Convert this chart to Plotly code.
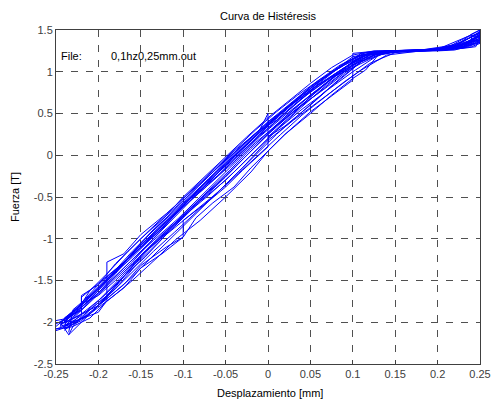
import plotly.graph_objects as go

# ---- data: hysteresis loops (displacement mm, force T) ----
loop_a_x = [-0.245, -0.23, -0.22, -0.2, -0.17, -0.14, -0.11, -0.08, -0.05, -0.02, 0.01, 0.04, 0.07, 0.10, 0.13, 0.16, 0.20, 0.23, 0.25,
            0.25, 0.24, 0.21, 0.17, 0.14, 0.11, 0.08, 0.05, 0.02, -0.01, -0.04, -0.07, -0.10, -0.13, -0.16, -0.19, -0.22, -0.24, -0.245]
loop_a_y = [-2.05, -2.0, -1.9, -1.8, -1.45, -1.12, -0.85, -0.55, -0.3, 0.0, 0.3, 0.58, 0.85, 1.08, 1.22, 1.25, 1.26, 1.3, 1.44,
            1.44, 1.35, 1.27, 1.26, 1.25, 1.2, 1.02, 0.82, 0.55, 0.28, -0.02, -0.3, -0.58, -0.88, -1.18, -1.5, -1.78, -1.95, -2.05]

loop_b_x = [-0.24, -0.24, -0.22, -0.22, -0.19, -0.16, -0.13, -0.10, -0.07, -0.04, -0.01, 0.02, 0.05, 0.08, 0.11, 0.14, 0.18, 0.22, 0.24, 0.24,
            0.25, 0.25, 0.23, 0.2, 0.16, 0.12, 0.09, 0.06, 0.03, 0.0, -0.03, -0.06, -0.09, -0.12, -0.15, -0.18, -0.2, -0.23, -0.24]
loop_b_y = [-2.0, -1.95, -1.85, -1.7, -1.45, -1.2, -0.92, -0.62, -0.35, -0.08, 0.22, 0.48, 0.72, 0.95, 1.15, 1.24, 1.25, 1.27, 1.33, 1.42,
            1.42, 1.48, 1.36, 1.27, 1.25, 1.2, 1.02, 0.85, 0.62, 0.4, 0.12, -0.15, -0.45, -0.72, -1.0, -1.3, -1.55, -1.88, -2.0]

loop_c_x = [-0.24, -0.23, -0.21, -0.18, -0.15, -0.12, -0.09, -0.06, -0.03, 0.0, 0.03, 0.06, 0.09, 0.12, 0.16, 0.2, 0.23, 0.25, 0.25, 0.23,
            0.2, 0.16, 0.13, 0.115, 0.1, 0.075, 0.05, 0.02, 0.0, -0.02, -0.04, -0.065, -0.085, -0.1, -0.125, -0.15, -0.17, -0.19, -0.21, -0.23, -0.24]
loop_c_y = [-2.05, -2.02, -1.9, -1.58, -1.2, -0.92, -0.62, -0.35, -0.05, 0.25, 0.52, 0.75, 1.0, 1.2, 1.25, 1.26, 1.3, 1.38, 1.45, 1.3,
            1.26, 1.25, 1.2, 1.02, 0.92, 0.72, 0.5, 0.25, 0.05, -0.15, -0.38, -0.57, -0.75, -0.98, -1.18, -1.35, -1.59, -1.75, -1.9, -2.0, -2.05]

loop_d_x = [-0.24, -0.23, -0.2, -0.19, -0.19, -0.17, -0.15, -0.12, -0.1, -0.07, -0.04, -0.01, 0.01, 0.03, 0.06, 0.09, 0.12, 0.15, 0.19, 0.22,
            0.25, 0.25, 0.22, 0.19, 0.15, 0.12, 0.1, 0.07, 0.04, 0.0, -0.03, -0.06, -0.09, -0.11, -0.14, -0.17, -0.2, -0.22, -0.24]
loop_d_y = [-2.1, -2.0, -1.88, -1.74, -1.28, -1.18, -0.95, -0.7, -0.52, -0.25, 0.02, 0.3, 0.42, 0.6, 0.85, 1.05, 1.22, 1.25, 1.26, 1.3,
            1.4, 1.46, 1.32, 1.26, 1.25, 1.22, 1.12, 0.9, 0.68, 0.32, 0.05, -0.25, -0.5, -0.72, -1.05, -1.35, -1.65, -1.85, -2.02]

loop_e_x = [-0.245, -0.235, -0.23, -0.21, -0.18, -0.15, -0.12, -0.09, -0.06, -0.03, 0.0, 0.03, 0.06, 0.09, 0.12, 0.15, 0.19, 0.22, 0.235, 0.25,
            0.25, 0.235, 0.21, 0.18, 0.14, 0.11, 0.08, 0.05, 0.02, -0.01, -0.04, -0.07, -0.1, -0.13, -0.16, -0.19, -0.21, -0.23, -0.245]
loop_e_y = [-2.0, -2.15, -2.05, -1.85, -1.6, -1.25, -0.95, -0.7, -0.45, -0.15, 0.18, 0.42, 0.65, 0.88, 1.1, 1.23, 1.25, 1.28, 1.36, 1.38,
            1.46, 1.42, 1.28, 1.26, 1.25, 1.18, 0.98, 0.78, 0.55, 0.3, 0.0, -0.28, -0.6, -0.92, -1.2, -1.48, -1.68, -1.9, -2.0]

loop_f_x = [-0.24, -0.23, -0.21, -0.19, -0.16, -0.13, -0.11, -0.08, -0.05, -0.02, 0.0, 0.02, 0.05, 0.08, 0.1, 0.1, 0.12, 0.14, 0.17, 0.21,
            0.24, 0.25, 0.25, 0.23, 0.2, 0.17, 0.13, 0.1, 0.07, 0.04, 0.01, -0.02, -0.05, -0.08, -0.11, -0.14, -0.17, -0.2, -0.22, -0.22, -0.24]
loop_f_y = [-2.08, -2.05, -1.95, -1.75, -1.5, -1.22, -1.02, -0.78, -0.5, -0.2, 0.05, 0.25, 0.52, 0.75, 0.9, 1.05, 1.15, 1.23, 1.25, 1.26,
            1.32, 1.38, 1.44, 1.33, 1.27, 1.25, 1.24, 1.18, 0.95, 0.72, 0.45, 0.18, -0.1, -0.38, -0.66, -0.95, -1.28, -1.55, -1.68, -1.85, -1.98]

loop_g_x = [-0.25, -0.235, -0.22, -0.2, -0.18, -0.155, -0.13, -0.1, -0.075, -0.05, -0.025, 0.0, 0.025, 0.05, 0.075, 0.1, 0.125, 0.15, 0.2, 0.225,
            0.245, 0.25, 0.24, 0.22, 0.19, 0.15, 0.125, 0.1, 0.075, 0.05, 0.025, 0.0, -0.025, -0.05, -0.075, -0.1, -0.125, -0.15, -0.175, -0.2, -0.225, -0.25]
loop_g_y = [-1.98, -1.95, -1.82, -1.65, -1.42, -1.12, -0.88, -0.6, -0.38, -0.12, 0.12, 0.38, 0.6, 0.8, 1.0, 1.16, 1.24, 1.25, 1.26, 1.3,
            1.4, 1.5, 1.45, 1.3, 1.26, 1.25, 1.25, 1.2, 1.05, 0.86, 0.66, 0.45, 0.22, -0.02, -0.25, -0.5, -0.78, -1.05, -1.35, -1.62, -1.88, -2.02]

loop_h_x = [-0.24, -0.225, -0.21, -0.19, -0.17, -0.14, -0.12, -0.09, -0.07, -0.04, -0.02, 0.01, 0.04, 0.06, 0.09, 0.11, 0.13, 0.16, 0.2, 0.22,
            0.24, 0.25, 0.245, 0.23, 0.2, 0.16, 0.12, 0.095, 0.07, 0.045, 0.015, -0.015, -0.045, -0.075, -0.105, -0.135, -0.165, -0.195, -0.215, -0.235, -0.24]
loop_h_y = [-2.0, -1.98, -1.85, -1.68, -1.45, -1.1, -0.9, -0.65, -0.48, -0.2, 0.0, 0.3, 0.55, 0.7, 0.95, 1.12, 1.22, 1.25, 1.26, 1.28,
            1.35, 1.4, 1.3, 1.28, 1.26, 1.25, 1.22, 1.08, 0.88, 0.65, 0.4, 0.15, -0.15, -0.45, -0.75, -1.02, -1.3, -1.6, -1.78, -1.92, -2.0]

loop_i_x = [-0.235, -0.23, -0.22, -0.2, -0.17, -0.15, -0.12, -0.1, -0.1, -0.07, -0.05, -0.03, 0.0, 0.0, 0.02, 0.05, 0.07, 0.1, 0.13, 0.15,
            0.2, 0.22, 0.235, 0.25, 0.25, 0.22, 0.18, 0.14, 0.11, 0.08, 0.05, 0.03, 0.0, -0.03, -0.06, -0.09, -0.12, -0.15, -0.18, -0.21, -0.23, -0.235]
loop_i_y = [-2.15, -2.1, -2.0, -1.8, -1.55, -1.32, -1.1, -0.98, -0.78, -0.55, -0.38, -0.18, 0.1, 0.22, 0.35, 0.6, 0.78, 1.0, 1.2, 1.24,
            1.25, 1.26, 1.3, 1.35, 1.42, 1.3, 1.26, 1.25, 1.22, 1.02, 0.78, 0.62, 0.35, 0.05, -0.22, -0.5, -0.8, -1.1, -1.38, -1.68, -1.85, -2.12]

loop_j_x = [-0.25, -0.24, -0.22, -0.22, -0.2, -0.18, -0.16, -0.13, -0.1, -0.08, -0.05, -0.02, 0.01, 0.04, 0.07, 0.09, 0.11, 0.14, 0.18, 0.21,
            0.23, 0.25, 0.25, 0.22, 0.19, 0.16, 0.13, 0.11, 0.08, 0.05, 0.02, -0.01, -0.04, -0.07, -0.1, -0.13, -0.16, -0.19, -0.21, -0.23, -0.25]
loop_j_y = [-2.08, -2.05, -1.92, -1.78, -1.68, -1.5, -1.3, -1.0, -0.72, -0.52, -0.25, 0.05, 0.35, 0.6, 0.82, 0.98, 1.12, 1.24, 1.25, 1.27,
            1.32, 1.35, 1.48, 1.3, 1.26, 1.25, 1.24, 1.18, 0.98, 0.76, 0.5, 0.24, -0.06, -0.35, -0.62, -0.92, -1.22, -1.5, -1.7, -1.88, -2.05]

loop_k_x = [-0.245, -0.23, -0.215, -0.2, -0.175, -0.15, -0.125, -0.1, -0.075, -0.05, -0.025, 0.0, 0.025, 0.05, 0.075, 0.1, 0.12, 0.15, 0.2, 0.23,
            0.25, 0.25, 0.23, 0.2, 0.16, 0.13, 0.105, 0.08, 0.055, 0.03, 0.005, -0.02, -0.045, -0.07, -0.095, -0.12, -0.145, -0.17, -0.195, -0.22, -0.245]
loop_k_y = [-2.02, -1.96, -1.88, -1.74, -1.48, -1.2, -0.98, -0.72, -0.5, -0.26, 0.0, 0.26, 0.5, 0.72, 0.92, 1.1, 1.2, 1.25, 1.26, 1.29,
            1.36, 1.45, 1.33, 1.27, 1.25, 1.24, 1.16, 0.96, 0.76, 0.55, 0.32, 0.08, -0.18, -0.42, -0.68, -0.95, -1.22, -1.45, -1.7, -1.9, -2.03]

loop_l_x = [-0.24, -0.22, -0.2, -0.18, -0.16, -0.14, -0.11, -0.09, -0.06, -0.04, -0.01, 0.0, 0.0, 0.03, 0.05, 0.08, 0.1, 0.1, 0.13, 0.16,
            0.21, 0.24, 0.25, 0.25, 0.22, 0.18, 0.14, 0.12, 0.09, 0.06, 0.03, 0.0, -0.03, -0.06, -0.09, -0.12, -0.15, -0.18, -0.2, -0.22, -0.24]
loop_l_y = [-1.95, -1.8, -1.6, -1.38, -1.15, -0.95, -0.65, -0.45, -0.15, 0.05, 0.3, 0.5, 0.22, 0.5, 0.7, 0.95, 1.05, 1.22, 1.25, 1.25,
            1.27, 1.35, 1.38, 1.47, 1.32, 1.26, 1.25, 1.22, 1.08, 0.9, 0.65, 0.4, 0.12, -0.18, -0.5, -0.8, -1.08, -1.4, -1.62, -1.82, -2.0]

loop_m_x = [-0.25, -0.235, -0.22, -0.205, -0.185, -0.16, -0.135, -0.11, -0.085, -0.06, -0.035, -0.01, 0.015, 0.04, 0.065, 0.09, 0.11, 0.14, 0.18, 0.22,
            0.24, 0.25, 0.25, 0.24, 0.21, 0.17, 0.13, 0.11, 0.085, 0.06, 0.035, 0.01, -0.015, -0.04, -0.065, -0.09, -0.115, -0.14, -0.165, -0.19,
            -0.215, -0.235, -0.25]
loop_m_y = [-2.1, -2.05, -1.98, -1.85, -1.65, -1.4, -1.15, -0.92, -0.68, -0.45, -0.22, 0.02, 0.25, 0.48, 0.68, 0.88, 1.02, 1.2, 1.25, 1.27,
            1.3, 1.34, 1.42, 1.38, 1.28, 1.25, 1.23, 1.12, 0.92, 0.7, 0.48, 0.25, 0.0, -0.25, -0.5, -0.75, -1.0, -1.25, -1.5, -1.72,
            -1.92, -2.06, -2.08]

loop_n_x = [-0.24, -0.235, -0.22, -0.21, -0.19, -0.165, -0.14, -0.115, -0.09, -0.065, -0.04, -0.015, 0.01, 0.035, 0.06, 0.085, 0.105, 0.13, 0.17, 0.215,
            0.235, 0.25, 0.25, 0.235, 0.2, 0.17, 0.14, 0.115, 0.09, 0.065, 0.04, 0.015, -0.01, -0.035, -0.06, -0.085, -0.11, -0.135, -0.16, -0.185,
            -0.21, -0.23, -0.24]
loop_n_y = [-2.05, -1.92, -1.78, -1.62, -1.42, -1.15, -0.9, -0.66, -0.42, -0.18, 0.05, 0.3, 0.52, 0.72, 0.9, 1.08, 1.18, 1.24, 1.25, 1.27,
            1.34, 1.4, 1.5, 1.42, 1.27, 1.26, 1.25, 1.23, 1.1, 0.92, 0.72, 0.5, 0.28, 0.04, -0.22, -0.48, -0.75, -1.0, -1.28, -1.52,
            -1.75, -1.95, -2.05]

x_tick_vals = [-0.25, -0.2, -0.15, -0.1, -0.05, 0, 0.05, 0.1, 0.15, 0.2, 0.25]
x_tick_text = ["-0.25", "-0.2", "-0.15", "-0.1", "-0.05", "0", "0.05", "0.1", "0.15", "0.2", "0.25"]
y_tick_vals = [-2.5, -2, -1.5, -1, -0.5, 0, 0.5, 1, 1.5]
y_tick_text = ["-2.5", "-2", "-1.5", "-1", "-0.5", "0", "0.5", "1", "1.5"]

title_text = "Curva de Histéresis"
x_title = "Desplazamiento [mm]"
y_title = "Fuerza [T]"
file_label = "File:"
file_name = "0,1hz0,25mm.out"

loops = [
    (loop_a_x, loop_a_y), (loop_b_x, loop_b_y), (loop_c_x, loop_c_y), (loop_d_x, loop_d_y),
    (loop_e_x, loop_e_y), (loop_f_x, loop_f_y), (loop_g_x, loop_g_y), (loop_h_x, loop_h_y),
    (loop_i_x, loop_i_y), (loop_j_x, loop_j_y), (loop_k_x, loop_k_y), (loop_l_x, loop_l_y),
    (loop_m_x, loop_m_y), (loop_n_x, loop_n_y),
]

FONT = "Liberation Sans, Arial, sans-serif"
AX_COLOR = "#404040"
TXT = dict(family=FONT, size=11, color="black")

fig = go.Figure()
for lx, ly in loops:
    fig.add_trace(go.Scatter(x=lx, y=ly, mode="lines",
                             line=dict(color="#0000ff", width=1),
                             showlegend=False, hoverinfo="skip"))

axis_common = dict(
    showline=True, mirror=True, linecolor=AX_COLOR, linewidth=1,
    ticks="inside", ticklen=4, tickcolor=AX_COLOR, tickwidth=1,
    showgrid=True, gridcolor="#505050", gridwidth=1, griddash="7px,8px",
    zeroline=False, automargin=False,
    tickfont=dict(family=FONT, size=11, color=AX_COLOR),
)

fig.update_layout(
    width=495, height=405,
    margin=dict(l=56, r=15, t=30, b=41),
    paper_bgcolor="white", plot_bgcolor="white",
    font=TXT,
    xaxis=dict(range=[-0.25, 0.25], tickvals=x_tick_vals, ticktext=x_tick_text, **axis_common),
    yaxis=dict(range=[-2.5, 1.5], tickvals=y_tick_vals, ticktext=y_tick_text, **axis_common),
    annotations=[
        dict(text=title_text, xref="paper", yref="paper", x=0.5, y=1, yshift=14.5,
             xanchor="center", yanchor="middle", showarrow=False, font=TXT),
        dict(text=x_title, xref="paper", yref="paper", x=0.505, y=0, yshift=-29,
             xanchor="center", yanchor="middle", showarrow=False, font=TXT),
        dict(text=y_title, xref="paper", yref="paper", x=0, xshift=-41, y=0.5,
             xanchor="center", yanchor="middle", textangle=-90, showarrow=False, font=TXT),
        dict(text=file_label, xref="paper", yref="paper", x=0.008, y=0.922,
             xanchor="left", yanchor="middle", showarrow=False, font=TXT),
        dict(text=file_name, xref="paper", yref="paper", x=0.124, y=0.922,
             xanchor="left", yanchor="middle", showarrow=False, font=TXT),
    ],
)

fig.write_html("out.html", config={"displayModeBar": False},
               post_script="document.body.style.margin='0';document.body.style.padding='0';")
